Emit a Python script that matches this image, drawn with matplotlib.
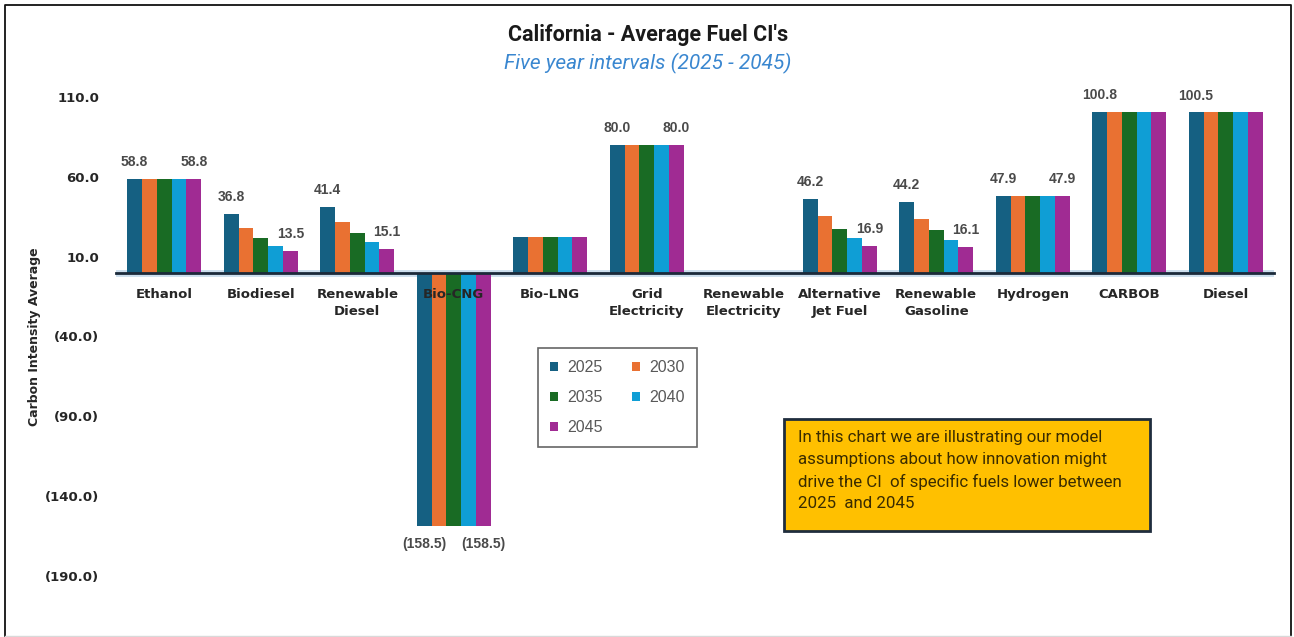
import matplotlib
matplotlib.use("Agg")
import matplotlib.pyplot as plt
import numpy as np
from matplotlib.lines import Line2D
from matplotlib.patches import Rectangle
from matplotlib.ticker import FixedLocator, FuncFormatter

# average fuel carbon intensity by year (gCO2e/MJ)
categories = ["Ethanol", "Biodiesel", "Renewable\nDiesel", "Bio-CNG", "Bio-LNG",
              "Grid\nElectricity", "Renewable\nElectricity", "Alternative\nJet Fuel",
              "Renewable\nGasoline", "Hydrogen", "CARBOB", "Diesel"]
years = ["2025", "2030", "2035", "2040", "2045"]
ci_2025 = [58.8, 36.8, 41.4, -158.5, 22.3, 80.0, 0.0, 46.2, 44.2, 47.9, 100.8, 100.5]
ci_2030 = [58.8, 27.9, 31.5, -158.5, 22.3, 80.0, 0.0, 35.2, 33.5, 47.9, 100.8, 100.5]
ci_2035 = [58.8, 21.4, 24.8, -158.5, 22.3, 80.0, 0.0, 27.3, 26.5, 47.9, 100.8, 100.5]
ci_2040 = [58.8, 16.5, 19.0, -158.5, 22.3, 80.0, 0.0, 21.5, 20.6, 47.9, 100.8, 100.5]
ci_2045 = [58.8, 13.5, 15.1, -158.5, 22.3, 80.0, 0.0, 16.9, 16.1, 47.9, 100.8, 100.5]
y_ticks = [110, 60, 10, -40, -90, -140, -190]

# which groups get a value label on the first / last year bar
label_first = ["Ethanol", "Biodiesel", "Renewable\nDiesel", "Bio-CNG", "Grid\nElectricity",
               "Alternative\nJet Fuel", "Renewable\nGasoline", "Hydrogen", "CARBOB", "Diesel"]
label_last = ["Ethanol", "Biodiesel", "Renewable\nDiesel", "Bio-CNG", "Grid\nElectricity",
              "Alternative\nJet Fuel", "Renewable\nGasoline", "Hydrogen"]

series = [ci_2025, ci_2030, ci_2035, ci_2040, ci_2045]
colors = ["#156082", "#E97132", "#196B24", "#0F9ED5", "#A02B93"]

W, H = 1294, 637
fig = plt.figure(figsize=(W / 100, H / 100), dpi=100)
ax = fig.add_axes([116 / W, 1 - 576 / H, 1158 / W, 479 / H])

x = np.arange(len(categories))
bw = 0.1535
bars = []
for i, (yr, vals, c) in enumerate(zip(years, series, colors)):
    b = ax.bar(x + (i - 2) * bw, vals, width=bw, color=c, label=yr, zorder=1)
    bars.append(b)

def fmt_val(v):
    return f"{v:.1f}" if v >= 0 else f"({abs(v):.1f})"

for idx, names in ((0, label_first), (4, label_last)):
    for rect, cat, v in zip(bars[idx], categories, series[idx]):
        if cat not in names:
            continue
        off = 12 if v >= 0 else -13
        ax.annotate(fmt_val(v), (rect.get_x() + rect.get_width() / 2, v),
                    xytext=(0, off), textcoords="offset points",
                    ha="center", va="center", fontsize=10, fontweight="bold",
                    family="Liberation Sans", color="#4a4a4a", clip_on=False)

ax.set_xlim(-0.5, len(categories) - 0.5)
ax.set_ylim(-190, 110)

# zero line with a soft glow behind it
ax.axhline(0, color="#9cc0de", lw=5, alpha=0.5, zorder=0.5)
for s in ("left", "right", "top"):
    ax.spines[s].set_visible(False)
ax.spines["bottom"].set_position(("data", 0))
ax.spines["bottom"].set_color("#1b2a3a")
ax.spines["bottom"].set_linewidth(2)

ax.set_xticks(x)
ax.set_xticklabels(categories, fontsize=9.5, fontweight="bold", color="#262626",
                   linespacing=1.45)
ax.xaxis.set_zorder(3)
ax.yaxis.set_major_locator(FixedLocator(y_ticks))
ax.yaxis.set_major_formatter(FuncFormatter(lambda v, _: fmt_val(v)))
ax.tick_params(axis="x", length=0, pad=11)
ax.tick_params(axis="y", length=0, pad=12, labelsize=9.5)
for t in ax.get_yticklabels():
    t.set_fontweight("bold")
    t.set_color("#262626")
ax.set_ylabel("Carbon Intensity Average", fontsize=9, fontweight="bold",
              color="#262626", labelpad=3)

fig.text(648 / W, 1 - 35 / H, "California - Average Fuel CI's", ha="center", va="center",
         fontsize=15.5, fontweight="bold", family="Roboto", color="#1a1a1a")
fig.text(648 / W, 1 - 63 / H, "Five year intervals (2025 - 2045)", ha="center", va="center",
         fontsize=15, style="italic", family="Roboto", color="#3a87d0")

# legend filled row by row: 2025 2030 / 2035 2040 / 2045
order = [0, 2, 4, 1, 3]
leg = fig.legend(handles=[bars[i] for i in order], labels=[years[i] for i in order],
                 ncol=2, loc="upper left",
                 bbox_to_anchor=(538 / W, 1 - 348 / H), borderaxespad=0,
                 prop={"family": "Liberation Sans", "size": 11.5}, labelcolor="#595959",
                 handlelength=0.5, handleheight=0.5, handletextpad=0.6,
                 columnspacing=1.8, labelspacing=0.95, borderpad=0.75,
                 fancybox=False, frameon=True)
leg.get_frame().set_edgecolor("#404040")
leg.get_frame().set_linewidth(1.2)

# note box
fig.add_artist(Rectangle((784 / W, 1 - 531 / H), (1150 - 784) / W, (531 - 419) / H,
                         transform=fig.transFigure, facecolor="#FFC000",
                         edgecolor="#1f2d3d", lw=2))
note = ("In this chart we are illustrating our model\n"
        "assumptions about how innovation might\n"
        "drive the CI  of specific fuels lower between\n"
        "2025  and 2045")
fig.text(798 / W, 1 - 430 / H, note, ha="left", va="top", fontsize=12.2, family="Roboto",
         color="#3a2c00", linespacing=1.55)

# outer frame
fig.add_artist(Line2D([5 / W, 5 / W, 1291 / W, 1291 / W],
                      [1 - 636 / H, 1 - 5 / H, 1 - 5 / H, 1 - 636 / H],
                      transform=fig.transFigure, color="#111111", lw=1.3))
fig.add_artist(Line2D([5 / W, 1291 / W], [1 - 636 / H, 1 - 636 / H],
                      transform=fig.transFigure, color="#d9d9d9", lw=1))

fig.savefig("out.png", dpi=100)
